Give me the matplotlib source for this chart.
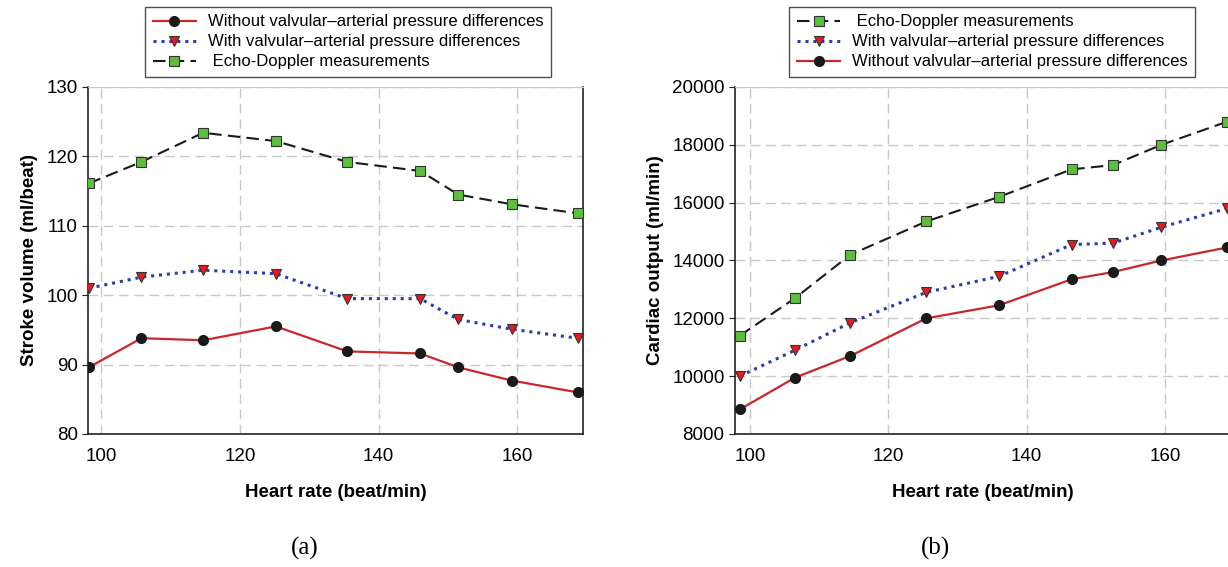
"""Stroke volume and cardiac output vs heart rate, two panels."""

import matplotlib

matplotlib.use("Agg")
import matplotlib.pyplot as plt

# panel (a): stroke volume
hr_a = [98.2, 105.8, 114.7, 125.2, 135.5, 146.0, 151.5, 159.2, 168.7]
sv_echo = [116.1, 119.2, 123.4, 122.2, 119.2, 117.9, 114.5, 113.1, 111.8]
sv_with = [101.0, 102.6, 103.6, 103.1, 99.5, 99.5, 96.5, 95.1, 93.8]
sv_without = [89.6, 93.8, 93.5, 95.5, 91.9, 91.6, 89.6, 87.7, 86.0]

# panel (b): cardiac output
hr_b = [98.5, 106.5, 114.5, 125.5, 136.0, 146.5, 152.5, 159.5, 169.0]
co_echo = [11400, 12700, 14200, 15350, 16200, 17150, 17300, 18000, 18800]
co_with = [10000, 10900, 11850, 12900, 13450, 14550, 14600, 15150, 15800]
co_without = [8850, 9950, 10700, 12000, 12450, 13350, 13600, 14000, 14450]

LBL_WITHOUT = "Without valvular\u2013arterial pressure differences"
LBL_WITH = "With valvular\u2013arterial pressure differences"
LBL_ECHO = " Echo-Doppler measurements"

RED = "#c8282c"
BLUE = "#2a3cb0"

plt.rcParams["font.family"] = ["Liberation Sans", "DejaVu Sans"]

fig = plt.figure(figsize=(12.28, 5.67), dpi=100)
ax_a = fig.add_axes([0.0717, 0.2346, 0.4031, 0.612])
ax_b = fig.add_axes([0.5985, 0.2346, 0.4030, 0.612])


def draw_series(ax, x, echo, with_, without, order, leg_x):
    h = {}
    h["without"], = ax.plot(x, without, color=RED, lw=1.6, marker="o", ms=7,
                            mfc="#1a1a1a", mec="#1a1a1a", label=LBL_WITHOUT, zorder=4)
    h["with"], = ax.plot(x, with_, color=BLUE, lw=2.2, ls=(0, (1, 1.6)), marker="v", ms=7,
                         mfc="#e8191f", mec="#333333", mew=0.8, label=LBL_WITH, zorder=4)
    h["echo"], = ax.plot(x, echo, color="#1a1a1a", lw=1.5, ls=(0, (6, 3)), marker="s", ms=7,
                         mfc="#5cbf3a", mec="#333333", mew=0.8, label=LBL_ECHO, zorder=4)
    handles = [h[k] for k in order]
    leg = ax.legend(handles=handles, loc="lower center", bbox_to_anchor=(leg_x, 1.005),
                    fontsize=12, frameon=True, fancybox=False, edgecolor="#222222",
                    handlelength=2.6, borderpad=0.45, labelspacing=0.3, handletextpad=0.7)
    leg.get_frame().set_linewidth(1.0)


def style_axes(ax):
    ax.grid(True, color="#c8c8c8", ls=(0, (7, 4)), lw=1.0)
    ax.set_axisbelow(True)
    for side in ("left", "bottom", "right"):
        ax.spines[side].set_color("#222222")
        ax.spines[side].set_linewidth(1.2)
    ax.spines["top"].set_color("#c8c8c8")
    ax.tick_params(labelsize=13.5, length=4, color="#222222")
    ax.tick_params(axis="x", length=0, pad=10)
    ax.set_xticks([100, 120, 140, 160])
    ax.set_xlabel("Heart rate (beat/min)", fontsize=13.5, fontweight="bold", labelpad=14)


draw_series(ax_a, hr_a, sv_echo, sv_with, sv_without, ["without", "with", "echo"], 0.525)
style_axes(ax_a)
ax_a.set_xlim(98.1, 169.5)
ax_a.set_ylim(80, 130)
ax_a.set_yticks(range(80, 131, 10))
ax_a.set_ylabel("Stroke volume (ml/beat)", fontsize=13.5, fontweight="bold", labelpad=6)

draw_series(ax_b, hr_b, co_echo, co_with, co_without, ["echo", "with", "without"], 0.52)
style_axes(ax_b)
ax_b.spines["right"].set_visible(False)
ax_b.set_xlim(97.8, 169.4)
ax_b.set_ylim(8000, 20000)
ax_b.set_yticks(range(8000, 20001, 2000))
ax_b.set_ylabel("Cardiac output (ml/min)", fontsize=13.5, fontweight="bold", labelpad=6)

fig.text(0.248, 0.032, "(a)", fontsize=18, family="Liberation Serif", ha="center", va="center")
fig.text(0.762, 0.032, "(b)", fontsize=18, family="Liberation Serif", ha="center", va="center")

fig.savefig("out.png", dpi=100)
